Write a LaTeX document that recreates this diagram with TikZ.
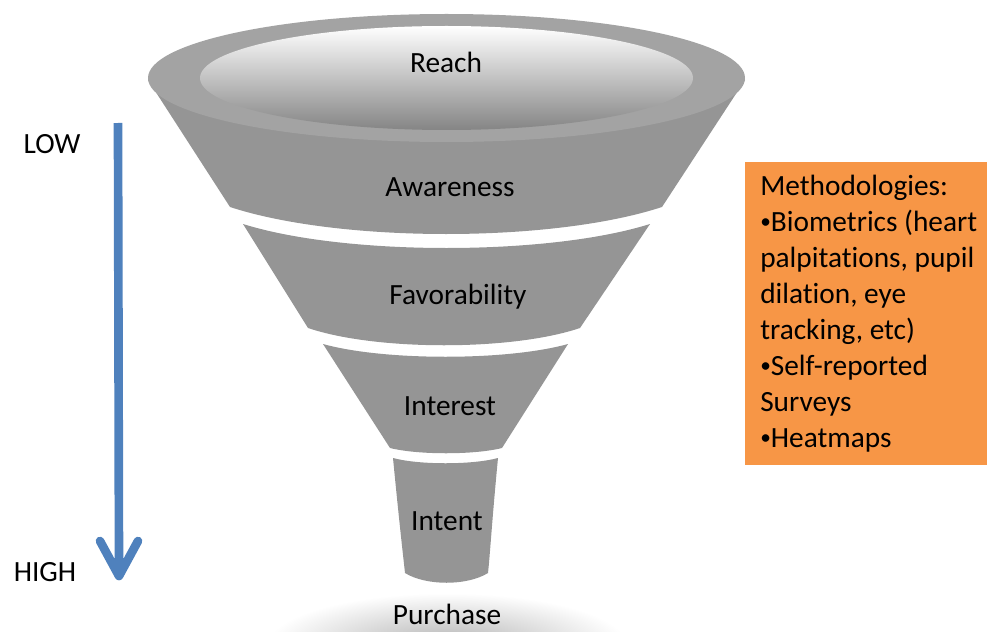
\documentclass[tikz,border=0pt]{standalone}
\usepackage{fontspec}
\setmainfont{Carlito}[Ligatures=NoCommon]
\usetikzlibrary{calc}
\definecolor{bodygray}{HTML}{959595}
\definecolor{rimgray}{HTML}{A3A3A3}
\definecolor{arrowblue}{HTML}{4F81BD}
\definecolor{boxorange}{HTML}{F79646}
\newcommand{\mybul}{\raisebox{0.1em}{\fontsize{16}{16}\selectfont •}}
\begin{document}
\begin{tikzpicture}[x=0.75pt,y=-0.75pt,
  lbl/.style={font=\fontsize{22}{27}\selectfont, inner sep=0pt, text=black},
  seg/.style={fill=bodygray},
  axisline/.style={draw=arrowblue, line width=6.5pt}]
\useasboundingbox (0,0) rectangle (987,631);

% shadow under Purchase
\shade[inner color=black!30, outer color=white] (447,645) ellipse [x radius=180, y radius=52];

% Awareness body
\fill[seg] (148,80) -- (230,207) .. controls (340,243) and (552,243) .. (662,207) -- (745,80) -- cycle;
% rim
\fill[rimgray] (446.5,78) ellipse [x radius=298.5, y radius=64];
% opening
\shade[top color=white, middle color=white!94!black, bottom color=black!48] (446.5,78) ellipse [x radius=246.5, y radius=52];

% Favorability
\fill[seg] (243,224) .. controls (345,256) and (548,256) .. (650,224) -- (580,328) .. controls (512,351) and (376,351) .. (308,328) -- cycle;
% Interest
\fill[seg] (323,344) .. controls (384,361) and (507,361) .. (568,344) -- (502,448) .. controls (474,455) and (418,455) .. (390,448) -- cycle;
% Intent
\fill[seg] (393,458) .. controls (419,465) and (472,465) .. (498,458) .. controls (492,520) and (490,555) .. (488,573) .. controls (467,586) and (426,586) .. (405,573) .. controls (403,555) and (399,520) .. (393,458) -- cycle;

% labels
\node[lbl] (reach) at (446,62) {Reach};
\node[lbl] (aware) at (450,187) {Awareness};
\node[lbl] (favor) at (458,297) {Favorability};
\node[lbl] (inter) at (450,406) {Interest};
\node[lbl] (inten) at (447,521) {Intent};
\node[lbl] (purch) at (447,614) {Purchase};

% LOW / HIGH axis
\node[lbl] (low) at (52,144) {LOW};
\node[lbl] (high) at (45,572) {HIGH};
\coordinate (atop) at (118,123);
\coordinate (atip) at (119,576);
\draw[axisline, line cap=butt] (atop) -- ($(atip)+(0,-6)$);
\draw[axisline, line cap=round, line join=round] ($(atip)+(-19,-35)$) -- (atip) -- ($(atip)+(19,-35)$);
\fill[arrowblue] ($(atip)+(-8,-18)$) -- (atip) -- ($(atip)+(8,-18)$) -- cycle;

% methodologies box
\fill[boxorange] (745,162) rectangle (987,465);
\node[lbl, anchor=north west, align=left] (meth) at (760,175) {Methodologies:\\
\mybul Biometrics (heart\\
palpitations, pupil\\
dilation, eye\\
tracking, etc)\\
\mybul Self-reported\\
Surveys\\
\mybul Heatmaps};
\end{tikzpicture}
\end{document}
